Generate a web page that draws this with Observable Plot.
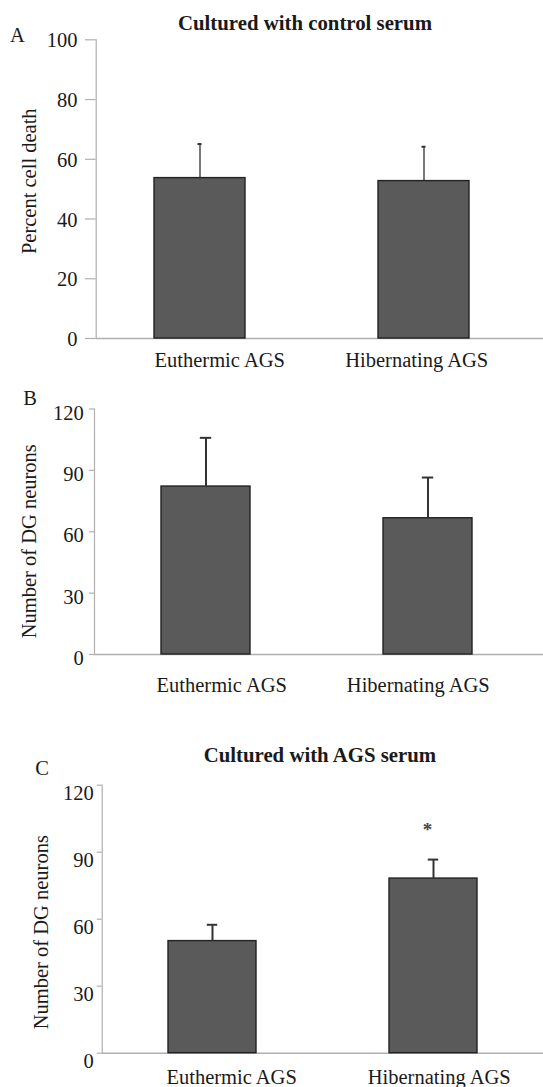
<!DOCTYPE html>
<html>
<head>
<meta charset="utf-8">
<script src="https://cdn.jsdelivr.net/npm/d3@7"></script>
<script src="https://cdn.jsdelivr.net/npm/@observablehq/plot@0.6"></script>
<style>
  html, body { margin: 0; padding: 0; background: #fff; }
  #chart { width: 543px; }
  #chart svg { display: block; }
</style>
</head>
<body>
<div id="chart"></div>
<script>
// ---- data ----
const groups = ["Euthermic AGS", "Hibernating AGS"];

const titleA = "Cultured with control serum";
const titleC = "Cultured with AGS serum";

const yLabelA = "Percent cell death";
const yLabelDG = "Number of DG neurons";

// Panel A: percent cell death (cultured with control serum)
const cellDeathMean = [53.7, 52.7];
const cellDeathErr = [11.4, 11.5];

// Panel B: number of DG neurons (cultured with control serum)
const dgControlMean = [82.1, 66.6];
const dgControlErr = [23.8, 19.9];

// Panel C: number of DG neurons (cultured with AGS serum)
const dgAgsMean = [50.2, 78.2];
const dgAgsErr = [7.3, 8.5];
const dgAgsSignif = ["", "*"];

const ticksPercent = [0, 20, 40, 60, 80, 100];
const ticksDG = [0, 30, 60, 90, 120];

// ---- helpers ----
const FONT = "Liberation Serif, 'Times New Roman', serif";
const FS = 20.5;
const TEXT = "#1a1a1a";
const AXIS = "#b0b0b0";

function rows(means, errs, signif) {
  return groups.map((g, i) => ({
    group: g, mean: means[i], hi: means[i] + errs[i], sig: signif ? signif[i] : ""
  }));
}

function panel(cfg) {
  const data = rows(cfg.means, cfg.errs, cfg.signif);
  const marks = [
    Plot.frame({anchor: "left", stroke: AXIS, strokeWidth: 1.2}),
    Plot.ruleY([0], {stroke: AXIS, strokeWidth: 1.5, insetRight: -cfg.mr}),
    Plot.axisY({ticks: cfg.ticks, tickSize: cfg.tickSize, fill: "none", stroke: AXIS, strokeWidth: 1.2, label: null}),
    Plot.axisY({ticks: cfg.ticks, tickSize: 0, tickPadding: cfg.tickOffset, dy: cfg.tickDy, fill: TEXT, fontSize: FS, label: null}),
    Plot.barY(data, {x: "group", y: "mean", fill: "#5a5a5a", stroke: "#222", strokeWidth: 1.4}),
    Plot.ruleX(data, {x: "group", y1: "mean", y2: "hi", stroke: "#333", strokeWidth: cfg.errWidth}),
    Plot.tickY(data, {x: "group", y: "hi", stroke: "#333", strokeWidth: 2, inset: cfg.capInset}),
    Plot.text([cfg.letter], {frameAnchor: "top-left", lineAnchor: "middle", dx: cfg.letterPos[0], dy: cfg.letterPos[1], fill: TEXT, textAnchor: "middle", fontSize: FS}),
    Plot.text([cfg.yLabel], {frameAnchor: "left", lineAnchor: "middle", rotate: -90, dx: cfg.yLabelPos[0], dy: cfg.yLabelPos[1], fill: TEXT, textAnchor: "middle", fontSize: FS}),
    Plot.text(data.filter(d => d.group === groups[0]), {x: "group", text: "group", frameAnchor: "bottom", lineAnchor: "middle", dx: cfg.xLabelDx[0], dy: cfg.xLabelDy, fill: TEXT, fontSize: FS}),
    Plot.text(data.filter(d => d.group === groups[1]), {x: "group", text: "group", frameAnchor: "bottom", lineAnchor: "middle", dx: cfg.xLabelDx[1], dy: cfg.xLabelDy, fill: TEXT, fontSize: FS})
  ];
  if (cfg.title) {
    marks.push(Plot.text([cfg.title], {frameAnchor: "top-left", lineAnchor: "middle", dx: cfg.titlePos[0], dy: cfg.titlePos[1], fill: TEXT, fontWeight: "bold", textAnchor: "middle", fontSize: 20.8}));
  }
  if (cfg.signif) {
    marks.push(Plot.text(data, {x: "group", y: "hi", text: "sig", lineAnchor: "middle", dx: -6, dy: -30, fill: "#444", fontWeight: "bold", fontSize: 19}));
  }
  return Plot.plot({
    width: 543,
    height: cfg.height,
    marginLeft: cfg.ml,
    marginRight: cfg.mr,
    marginTop: cfg.mt,
    marginBottom: cfg.mb,
    style: {fontFamily: FONT, fontSize: FS + "px", color: TEXT, background: "#fff", overflow: "visible"},
    x: {type: "band", domain: groups, paddingInner: cfg.pi, paddingOuter: cfg.po, axis: null},
    y: {domain: cfg.yDomain, axis: null},
    marks
  });
}

const chart = document.getElementById("chart");

chart.append(panel({
  height: 380, ml: 95.7, mr: 16.7, mt: 39.3, mb: 42,
  pi: 0.595, po: 0.2566,
  yDomain: [0, 100], ticks: ticksPercent,
  tickSize: 10.7, tickOffset: 18.8, tickDy: 1,
  means: cellDeathMean, errs: cellDeathErr,
  errWidth: 1.3, capInset: 43.5,
  letter: "A", letterPos: [-78.7, -4.3],
  title: titleA, titlePos: [208.8, -16.3],
  yLabel: yLabelA, yLabelPos: [-67.1, -7.9],
  xLabelDx: [19.7, -7.3], xLabelDy: 22
}));

chart.append(panel({
  height: 320, ml: 94, mr: 3.6, mt: 28.5, mb: 46,
  pi: 0.599, po: 0.2995,
  yDomain: [0, 120], ticks: ticksDG,
  tickSize: 5, tickOffset: 10.7, tickDy: 4,
  means: dgControlMean, errs: dgControlErr,
  errWidth: 2, capInset: 38.8,
  letter: "B", letterPos: [-64.5, -10.5],
  yLabel: yLabelDG, yLabelPos: [-65, 9.5],
  xLabelDx: [15.7, -9.7], xLabelDy: 31
}));

chart.append(panel({
  height: 387, ml: 101.7, mr: 0, mt: 84.7, mb: 34.3,
  pi: 0.6015, po: 0.296,
  yDomain: [0, 120], ticks: ticksDG,
  tickSize: 5, tickOffset: 8.4, tickDy: 8,
  means: dgAgsMean, errs: dgAgsErr, signif: dgAgsSignif,
  errWidth: 2, capInset: 38.8,
  letter: "C", letterPos: [-60.2, -16.7],
  title: titleC, titlePos: [217.7, -29.7],
  yLabel: yLabelDG, yLabelPos: [-61, 13],
  xLabelDx: [19.1, 5.7], xLabelDy: 24.3
}));
</script>
</body>
</html>
